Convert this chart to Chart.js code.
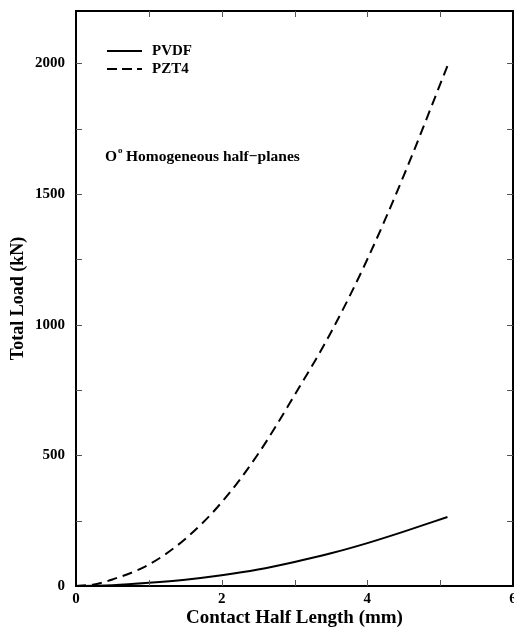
<!DOCTYPE html>
<html>
<head>
<meta charset="utf-8">
<script src="https://cdn.jsdelivr.net/npm/chart.js@4"></script>
<style>
  html, body { margin: 0; padding: 0; background: #fff; overflow: hidden; width: 514px; height: 629px; }
  #wrap { width: 530px; height: 629px; }
</style>
</head>
<body>
<div id="wrap"><canvas id="loadChart" width="530" height="629"></canvas></div>
<script>
// contact half length (mm) and total load (kN)
const contactHalfLength = [0, 0.25, 0.5, 1, 1.5, 2, 2.5, 3, 3.5, 4, 4.5, 5.1];
const pvdfLoad = [0, 1, 3, 12, 24, 41, 63, 92, 125, 164, 208, 264];
const pzt4Load = [0, 6, 25, 82, 180, 320, 505, 730, 970, 1250, 1570, 1990];

const xTickLabels = [0, 2, 4, 6];
const yTickLabels = [0, 500, 1000, 1500, 2000];
const xMinorTicks = [1, 2, 3, 4, 5];
const yMinorTicks = [250, 500, 750, 1000, 1250, 1500, 1750, 2000];

const serif = "'Liberation Serif', 'Times New Roman', serif";

function toPoints(xs, ys) {
  return xs.map((x, i) => ({ x: x, y: ys[i] }));
}

// frame, inward ticks, legend and the note
const framePlugin = {
  id: "frame",
  afterDraw(chart) {
    const ctx = chart.ctx;
    const area = chart.chartArea;
    const xs = chart.scales.x;
    const ys = chart.scales.y;
    ctx.save();
    ctx.strokeStyle = "#000";
    ctx.lineWidth = 2;
    ctx.strokeRect(area.left, area.top, area.right - area.left, area.bottom - area.top);

    ctx.lineWidth = 1;
    ctx.strokeStyle = "#555";
    const len = 6;
    xMinorTicks.forEach(v => {
      const px = Math.round(xs.getPixelForValue(v)) + 0.5;
      ctx.beginPath();
      ctx.moveTo(px, area.bottom); ctx.lineTo(px, area.bottom - len);
      ctx.moveTo(px, area.top); ctx.lineTo(px, area.top + len);
      ctx.stroke();
    });
    yMinorTicks.forEach(v => {
      const py = Math.round(ys.getPixelForValue(v)) + 0.5;
      ctx.beginPath();
      ctx.moveTo(area.left, py); ctx.lineTo(area.left + len, py);
      ctx.moveTo(area.right, py); ctx.lineTo(area.right - len, py);
      ctx.stroke();
    });

    // legend
    ctx.strokeStyle = "#000";
    ctx.lineWidth = 2;
    ctx.beginPath();
    ctx.moveTo(107, 51); ctx.lineTo(142, 51);
    ctx.stroke();
    ctx.setLineDash([10, 5]);
    ctx.beginPath();
    ctx.moveTo(107, 69); ctx.lineTo(142, 69);
    ctx.stroke();
    ctx.setLineDash([]);

    ctx.fillStyle = "#000";
    ctx.textBaseline = "middle";
    ctx.textAlign = "left";
    ctx.font = "bold 15px " + serif;
    ctx.fillText("PVDF", 152, 51);
    ctx.fillText("PZT4", 152, 69);

    // note
    ctx.font = "bold 15.5px " + serif;
    ctx.fillText("O", 105, 157);
    const oW = ctx.measureText("O").width;
    ctx.font = "bold 9px " + serif;
    ctx.fillText("o", 105 + oW + 1, 151);
    ctx.font = "bold 15.5px " + serif;
    ctx.fillText("Homogeneous half\u2212planes", 105 + oW + 9, 157);
    ctx.restore();
  }
};

const ctx = document.getElementById("loadChart").getContext("2d");
const chart = new Chart(ctx, {
  type: "line",
  data: {
    datasets: [
      {
        label: "PVDF",
        data: toPoints(contactHalfLength, pvdfLoad),
        borderColor: "#000",
        borderWidth: 2,
        pointRadius: 0,
        cubicInterpolationMode: "monotone",
        fill: false,
      },
      {
        label: "PZT4",
        data: toPoints(contactHalfLength, pzt4Load),
        borderColor: "#000",
        borderWidth: 2,
        borderDash: [10, 6],
        pointRadius: 0,
        cubicInterpolationMode: "monotone",
        fill: false,
      },
    ],
  },
  options: {
    responsive: false,
    animation: false,
    layout: { padding: { left: 0, top: 11, right: 17, bottom: 0 } },
    plugins: {
      legend: { display: false },
      tooltip: { enabled: false },
    },
    scales: {
      x: {
        type: "linear",
        min: 0,
        max: 6,
        afterBuildTicks: scale => { scale.ticks = xTickLabels.map(v => ({ value: v })); },
        afterFit: scale => { scale.height = 43; },
        grid: { display: false, drawTicks: false },
        border: { display: false },
        ticks: {
          color: "#000",
          padding: 4,
          maxRotation: 0,
          callback: v => String(v),
          font: { family: serif, size: 15, weight: "bold" },
        },
        title: {
          display: true,
          text: "Contact Half Length (mm)",
          color: "#000",
          font: { family: serif, size: 19, weight: "bold" },
          padding: { top: 0, bottom: 0 },
        },
      },
      y: {
        type: "linear",
        min: 0,
        max: 2200,
        afterBuildTicks: scale => { scale.ticks = yTickLabels.map(v => ({ value: v })); },
        afterFit: scale => {
          scale.width = 76;
          scale.paddingTop = 0;
          scale.paddingBottom = 0;
        },
        grid: { display: false, drawTicks: false },
        border: { display: false },
        ticks: {
          color: "#000",
          padding: 11,
          callback: v => String(v),
          font: { family: serif, size: 15, weight: "bold" },
        },
        title: {
          display: true,
          text: "Total Load (kN)",
          color: "#000",
          font: { family: serif, size: 18, weight: "bold" },
          padding: { top: 8, bottom: 0 },
        },
      },
    },
  },
  plugins: [framePlugin],
});
</script>
</body>
</html>
